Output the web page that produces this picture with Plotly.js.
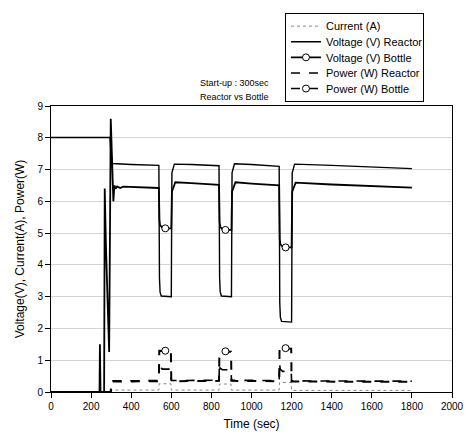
<!DOCTYPE html>
<html>
<head>
<meta charset="utf-8">
<script src="https://cdn.plot.ly/plotly-3.0.1.min.js"></script>
<style>html,body{margin:0;padding:0;background:#fff;}#chart{width:467px;height:441px;}</style>
</head>
<body>
<div id="chart"></div>
<script>
// ---- data ----
var currentTime = [0, 298, 300, 538, 540, 598, 600, 838, 840, 898, 900, 1138, 1140, 1198, 1200, 1800];
var currentVal  = [0, 0, 0.06, 0.06, 0.26, 0.26, 0.06, 0.06, 0.25, 0.25, 0.06, 0.06, 0.3, 0.3, 0.05, 0.05];

var vReactorTime = [0, 150, 294, 298, 303, 307, 400, 538, 541, 544, 550, 598, 600, 603, 615, 700, 838, 841, 844, 850, 898, 900, 903, 915, 1000, 1138, 1141, 1144, 1150, 1198, 1200, 1203, 1215, 1400, 1600, 1800];
var vReactorVal  = [8.01, 8.0, 8.01, 7.6, 7.25, 7.19, 7.16, 7.13, 3.6, 3.15, 3.02, 3.0, 3.0, 6.9, 7.17, 7.16, 7.12, 3.6, 3.15, 3.02, 3.0, 3.0, 6.9, 7.18, 7.16, 7.1, 2.8, 2.35, 2.22, 2.2, 2.2, 6.9, 7.17, 7.13, 7.08, 7.03];

var vBottleTime = [0, 242, 244, 247, 265, 268, 274, 290, 298, 306, 311, 316, 322, 330, 345, 360, 400, 450, 538, 541, 544, 555, 570, 598, 600, 603, 620, 700, 838, 841, 844, 855, 870, 898, 900, 903, 920, 1000, 1138, 1141, 1144, 1155, 1170, 1198, 1200, 1203, 1220, 1400, 1600, 1800];
var vBottleVal  = [0, 0, 1.5, 0, 0, 6.4, 4.6, 1.26, 8.6, 6.7, 6.0, 6.5, 6.4, 6.47, 6.42, 6.46, 6.45, 6.44, 6.42, 5.4, 5.25, 5.17, 5.15, 5.15, 5.15, 6.3, 6.6, 6.57, 6.52, 5.35, 5.2, 5.12, 5.1, 5.1, 5.1, 6.3, 6.6, 6.56, 6.5, 4.8, 4.65, 4.57, 4.55, 4.55, 4.55, 6.3, 6.59, 6.53, 6.48, 6.43];

var pReactorTime = [0, 298, 300, 400, 538, 540, 543, 555, 598, 600, 700, 838, 840, 843, 855, 898, 900, 1000, 1138, 1140, 1143, 1155, 1198, 1200, 1400, 1600, 1800];
var pReactorVal  = [0, 0, 0.35, 0.36, 0.36, 0.95, 0.8, 0.72, 0.72, 0.36, 0.37, 0.37, 0.9, 0.75, 0.7, 0.7, 0.37, 0.36, 0.36, 0.9, 0.72, 0.65, 0.65, 0.35, 0.35, 0.34, 0.34];

var pBottleTime = [0, 298, 300, 400, 538, 540, 570, 598, 600, 700, 838, 840, 870, 898, 900, 1000, 1138, 1140, 1170, 1198, 1200, 1400, 1600, 1800];
var pBottleVal  = [0, 0, 0.33, 0.34, 0.34, 1.3, 1.3, 1.28, 0.34, 0.35, 0.35, 1.28, 1.28, 1.27, 0.35, 0.34, 0.34, 1.38, 1.38, 1.36, 0.33, 0.33, 0.32, 0.32];

var markerTimes = [570, 870, 1170];

var seriesNames = ["Current (A)", "Voltage (V) Reactor", "Voltage (V) Bottle", "Power (W) Reactor", "Power (W) Bottle"];

// pick the marker points out of a series, separated by gaps so no line joins them
function markerPoints(ts, vs) {
  var x = [], y = [];
  ts.forEach(function (t, i) {
    if (markerTimes.indexOf(t) >= 0) {
      if (x.length) { x.push(null); y.push(null); }
      x.push(t); y.push(vs[i]);
    }
  });
  return {x: x, y: y};
}
var vbM = markerPoints(vBottleTime, vBottleVal);
var pbM = markerPoints(pBottleTime, pBottleVal);

var mk = {symbol: 'circle', size: 7, color: 'white', line: {color: 'black', width: 1}};

var traces = [
  {x: currentTime, y: currentVal, name: seriesNames[0], mode: 'lines',
   line: {color: '#888', width: 1, dash: 'dot'}},
  {x: vReactorTime, y: vReactorVal, name: seriesNames[1], mode: 'lines',
   line: {color: 'black', width: 1.4}},
  {x: vBottleTime, y: vBottleVal, name: seriesNames[2], mode: 'lines', showlegend: false,
   line: {color: 'black', width: 1.8}},
  {x: vbM.x, y: vbM.y, name: seriesNames[2], mode: 'lines+markers', connectgaps: false,
   line: {color: 'black', width: 1.8}, marker: mk},
  {x: pReactorTime, y: pReactorVal, name: seriesNames[3], mode: 'lines',
   line: {color: 'black', width: 1.6, dash: 'dash'}},
  {x: pBottleTime, y: pBottleVal, name: seriesNames[4], mode: 'lines', showlegend: false,
   line: {color: 'black', width: 2, dash: 'dash'}},
  {x: pbM.x, y: pbM.y, name: seriesNames[4], mode: 'lines+markers', connectgaps: false,
   line: {color: 'black', width: 1.6, dash: 'dash'}, marker: mk}
];

var FONT = '"Liberation Sans", Arial, sans-serif';

var layout = {
  width: 467, height: 441,
  margin: {l: 51, r: 15, t: 104, b: 49},
  paper_bgcolor: 'white', plot_bgcolor: 'white',
  font: {family: FONT, size: 10, color: 'black'},
  showlegend: true,
  legend: {
    x: 0.5835, y: 1.3264, xanchor: 'left', yanchor: 'top',
    bgcolor: 'white', bordercolor: 'black', borderwidth: 1,
    font: {family: FONT, size: 11, color: 'black'},
    tracegroupgap: 0
  },
  xaxis: {
    range: [0, 2000], tick0: 0, dtick: 200,
    ticks: 'outside', ticklen: 5, tickcolor: 'black',
    showgrid: false, zeroline: false,
    showline: true, linecolor: 'black', linewidth: 1, mirror: true,
    tickfont: {size: 10},
    title: {text: 'Time (sec)', font: {size: 12}, standoff: 8}
  },
  yaxis: {
    range: [0, 9], tick0: 0, dtick: 1,
    ticks: 'outside', ticklen: 5, tickcolor: 'black',
    showgrid: true, gridcolor: '#d4d4d4', gridwidth: 1, zeroline: false,
    showline: true, linecolor: 'black', linewidth: 1, mirror: true,
    tickfont: {size: 10},
    title: {text: 'Voltage(V), Current(A), Power(W)', font: {size: 12}, standoff: 10}
  },
  annotations: [
    {text: 'Start-up : 300sec', xref: 'paper', yref: 'paper', x: 0.367, y: 1.08,
     xanchor: 'left', yanchor: 'middle', showarrow: false, font: {size: 9}},
    {text: 'Reactor vs Bottle', xref: 'paper', yref: 'paper', x: 0.367, y: 1.031,
     xanchor: 'left', yanchor: 'middle', showarrow: false, font: {size: 9}}
  ]
};

Plotly.newPlot('chart', traces, layout, {displayModeBar: false, staticPlot: true}).then(function () {
  // tighten legend row spacing to match the reference (~15.5px per row)
  try {
    var leg = document.querySelector('.legend');
    var items = leg.querySelectorAll('.traces');
    var re = /translate\(\s*([-\d.]+)[ ,]+([-\d.]+)\s*\)/;
    var pos = [];
    items.forEach(function (it) {
      var m = re.exec(it.getAttribute('transform') || '');
      pos.push(m ? [parseFloat(m[1]), parseFloat(m[2])] : null);
    });
    if (pos.length > 1 && pos[0] && pos[1]) {
      var oldStep = pos[1][1] - pos[0][1];
      var step = 15.6;
      var shiftTop = -2;
      items.forEach(function (it, i) {
        if (!pos[i]) return;
        it.setAttribute('transform', 'translate(' + pos[i][0] + ',' + (pos[0][1] + shiftTop + i * step) + ')');
      });
      var bg = leg.querySelector('rect.bg');
      var h = parseFloat(bg.getAttribute('height'));
      var w = parseFloat(bg.getAttribute('width'));
      bg.setAttribute('height', h - (items.length - 1) * (oldStep - step) + 2 * shiftTop);
      bg.setAttribute('width', w - 5);
    }
  } catch (e) {}
});
</script>
</body>
</html>
